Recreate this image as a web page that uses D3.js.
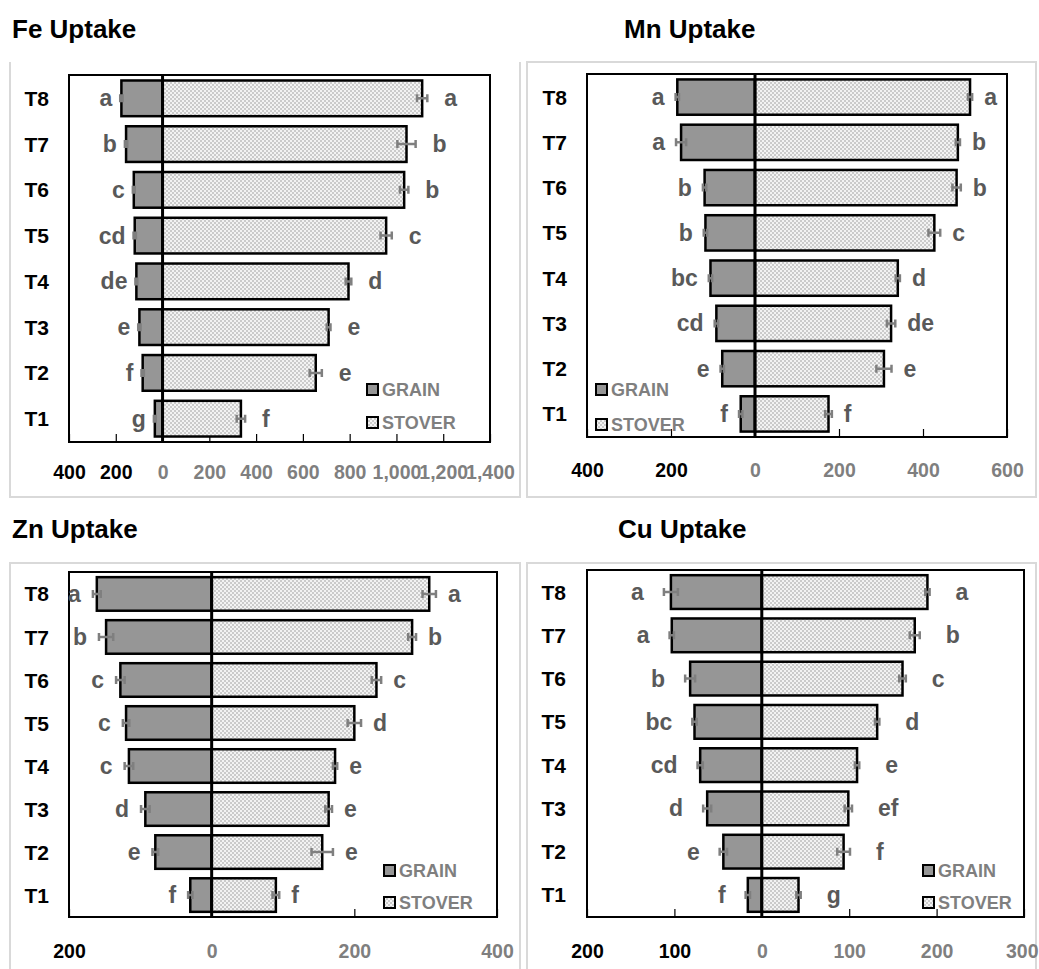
<!DOCTYPE html>
<html>
<head>
<meta charset="utf-8">
<script src="https://cdn.jsdelivr.net/npm/d3@7"></script>
<style>
  html, body { margin: 0; padding: 0; background: #fff; }
  svg { display: block; font-family: "Liberation Sans", Arial, sans-serif; }
</style>
</head>
<body>
<svg id="chart" width="1039" height="969"></svg>
<script>
// Treatments, listed T1..T8 (T8 is drawn at the top)
const treatments = ["T1", "T2", "T3", "T4", "T5", "T6", "T7", "T8"];

// Fe uptake
const feGrain = [33, 85, 99, 112, 119, 123, 156, 176];
const feGrainErr = [4, 5, 5, 4, 5, 4, 5, 5];
const feStover = [335, 655, 710, 795, 956, 1033, 1043, 1110];
const feStoverErr = [18, 26, 8, 12, 24, 18, 39, 22];
const feGrainLetters = ["g", "f", "e", "de", "cd", "c", "b", "a"];
const feStoverLetters = ["f", "e", "e", "d", "c", "b", "b", "a"];
const feTicks = [-400, -200, 0, 200, 400, 600, 800, 1000, 1200, 1400];

// Mn uptake
const mnGrain = [34, 78, 92, 106, 118, 120, 176, 185];
const mnGrainErr = [4, 4, 4, 4, 4, 4, 12, 4];
const mnStover = [175, 307, 324, 340, 427, 480, 483, 512];
const mnStoverErr = [8, 18, 10, 5, 14, 10, 5, 5];
const mnGrainLetters = ["f", "e", "cd", "bc", "b", "b", "a", "a"];
const mnStoverLetters = ["f", "e", "de", "d", "c", "b", "b", "a"];
const mnTicks = [-400, -200, 0, 200, 400, 600];

// Zn uptake
const znGrain = [30, 79, 93, 116, 120, 128, 148, 161];
const znGrainErr = [3, 4, 6, 6, 4.5, 6, 10, 5.5];
const znStover = [90, 155, 164, 173, 200, 231, 281, 305];
const znStoverErr = [4.7, 15, 4.7, 3, 9.4, 6.6, 5.5, 9.4];
const znGrainLetters = ["f", "e", "d", "c", "c", "c", "b", "a"];
const znStoverLetters = ["f", "e", "e", "e", "d", "c", "b", "a"];
const znTicks = [-200, 0, 200, 400];

// Cu uptake
const cuGrain = [16, 44, 62.5, 70.5, 77, 82, 103, 104];
const cuGrainErr = [2.5, 4.2, 4.6, 3, 2.5, 5.7, 2.5, 8];
const cuStover = [42, 93.6, 99, 109, 132, 161, 175, 189.5];
const cuStoverErr = [2.5, 7.3, 4.2, 2.5, 2.5, 3.8, 5.7, 2.5];
const cuGrainLetters = ["f", "e", "d", "cd", "bc", "b", "a", "a"];
const cuStoverLetters = ["g", "f", "ef", "e", "d", "c", "b", "a"];
const cuTicks = [-200, -100, 0, 100, 200, 300];

const seriesNames = ["GRAIN", "STOVER"];

const W = 1039;

// Panel layout
const panels = [
  { title: "Fe Uptake", titleX: 12, titleY: 38,
    box: { x: 10, y: 62, w: 510, h: 435, top: false },
    plot: { x0: 69, x1: 490, y0: 75, y1: 442 }, labelX: 49, tickPad: 23.5,
    domain: [-400, 1400], ticks: feTicks, legend: { x: 367, y: [384, 417] },
    gapG: 8, gapS: 17,
    grain: feGrain, grainErr: feGrainErr, stover: feStover, stoverErr: feStoverErr,
    gl: feGrainLetters, sl: feStoverLetters },
  { title: "Mn Uptake", titleX: 624, titleY: 38,
    box: { x: 527, y: 62, w: 509, h: 435, top: true },
    plot: { x0: 587, x1: 1007, y0: 74, y1: 437 }, labelX: 567, tickPad: 26.5,
    domain: [-400, 600], ticks: mnTicks, legend: { x: 596, y: [384, 419] },
    gapG: 11, gapS: 12,
    grain: mnGrain, grainErr: mnGrainErr, stover: mnStover, stoverErr: mnStoverErr,
    gl: mnGrainLetters, sl: mnStoverLetters },
  { title: "Zn Uptake", titleX: 12, titleY: 538,
    box: { x: 10, y: 563, w: 510, h: 420, top: true },
    plot: { x0: 69, x1: 497, y0: 572, y1: 917 }, labelX: 49, tickPad: 27.5,
    domain: [-200, 400], ticks: znTicks, legend: { x: 384, y: [865, 897] },
    gapG: 12, gapS: 12,
    grain: znGrain, grainErr: znGrainErr, stover: znStover, stoverErr: znStoverErr,
    gl: znGrainLetters, sl: znStoverLetters },
  { title: "Cu Uptake", titleX: 618, titleY: 538,
    box: { x: 527, y: 563, w: 509, h: 420, top: true },
    plot: { x0: 587, x1: 1024, y0: 570, y1: 917 }, labelX: 566, tickPad: 27.5,
    domain: [-200, 300], ticks: cuTicks, legend: { x: 923, y: [865, 897] },
    gapG: 20, gapS: 26,
    grain: cuGrain, grainErr: cuGrainErr, stover: cuStover, stoverErr: cuStoverErr,
    gl: cuGrainLetters, sl: cuStoverLetters }
];

const svg = d3.select("#chart");

// Fine checkered fill for the stover bars
const defs = svg.append("defs");
const pat = defs.append("pattern").attr("id", "stoverFill")
  .attr("width", 4).attr("height", 4).attr("patternUnits", "userSpaceOnUse");
pat.append("rect").attr("width", 4).attr("height", 4).attr("fill", "#f3f3f3");
pat.append("rect").attr("x", 0).attr("y", 0).attr("width", 2).attr("height", 2).attr("fill", "#cbcbcb");
pat.append("rect").attr("x", 2).attr("y", 2).attr("width", 2).attr("height", 2).attr("fill", "#cbcbcb");

const grainColor = "#969696";
const letterColor = "#595959";
const softText = "#7f7f7f";
const errColor = "#7f7f7f";
const fmt = d3.format(",");

panels.forEach(p => {
  const g = svg.append("g");

  // panel frame
  const b = p.box;
  const framePath = p.box.top
    ? `M${b.x},${b.y + b.h}V${b.y}H${b.x + b.w}V${b.y + b.h}Z`
    : `M${b.x},${b.y}V${b.y + b.h}H${b.x + b.w}V${b.y}`;
  g.append("path").attr("d", framePath).attr("fill", "none")
    .attr("stroke", "#d9d9d9").attr("stroke-width", 2);

  // title
  g.append("text").attr("x", p.titleX).attr("y", p.titleY)
    .attr("font-size", 26).attr("font-weight", "bold").attr("fill", "#000")
    .text(p.title);

  const x = d3.scaleLinear().domain(p.domain).range([p.plot.x0, p.plot.x1]);
  const y = d3.scaleBand().domain(treatments.slice().reverse())
    .range([p.plot.y0, p.plot.y1]).paddingInner(0.22).paddingOuter(0.12);

  const rows = treatments.map((t, i) => ({
    t, grain: p.grain[i], ge: p.grainErr[i], stover: p.stover[i], se: p.stoverErr[i],
    gl: p.gl[i], sl: p.sl[i]
  }));

  // plot area
  g.append("rect").attr("x", p.plot.x0).attr("y", p.plot.y0)
    .attr("width", p.plot.x1 - p.plot.x0).attr("height", p.plot.y1 - p.plot.y0)
    .attr("fill", "#fff").attr("stroke", "#000").attr("stroke-width", 2);

  // inward tick marks along the bottom edge
  const tickAxis = d3.axisTop(x).tickValues(p.ticks.filter(v => v !== 0))
    .tickSize(8).tickFormat("");
  const ta = g.append("g").attr("transform", `translate(0,${p.plot.y1})`).call(tickAxis);
  ta.select(".domain").remove();
  ta.selectAll("line").attr("stroke", "#000").attr("stroke-width", 1.2);

  // grain bars (drawn to the left of zero)
  g.selectAll(".grain").data(rows).join("rect")
    .attr("x", d => x(-d.grain)).attr("y", d => y(d.t))
    .attr("width", d => x(0) - x(-d.grain)).attr("height", y.bandwidth())
    .attr("fill", grainColor).attr("stroke", "#000").attr("stroke-width", 2.5);

  // stover bars
  g.selectAll(".stover").data(rows).join("rect")
    .attr("x", x(0)).attr("y", d => y(d.t))
    .attr("width", d => x(d.stover) - x(0)).attr("height", y.bandwidth())
    .attr("fill", "url(#stoverFill)").attr("stroke", "#000").attr("stroke-width", 2.5);

  // zero line
  g.append("line").attr("x1", x(0)).attr("x2", x(0))
    .attr("y1", p.plot.y0).attr("y2", p.plot.y1)
    .attr("stroke", "#000").attr("stroke-width", 3);

  // error bars
  const errBar = (lo, hi, cy) => `M${lo},${cy}H${hi}M${lo},${cy - 4}V${cy + 4}M${hi},${cy - 4}V${cy + 4}`;
  g.selectAll(".gerr").data(rows).join("path")
    .attr("d", d => errBar(x(-(d.grain + d.ge)), x(-(d.grain - d.ge)), y(d.t) + y.bandwidth() / 2))
    .attr("fill", "none").attr("stroke", errColor).attr("stroke-width", 2.5);
  g.selectAll(".serr").data(rows).join("path")
    .attr("d", d => errBar(x(d.stover - d.se), x(d.stover + d.se), y(d.t) + y.bandwidth() / 2))
    .attr("fill", "none").attr("stroke", errColor).attr("stroke-width", 2.5);

  // significance letters
  g.selectAll(".gl").data(rows).join("text")
    .attr("x", d => x(-(d.grain + d.ge)) - p.gapG)
    .attr("y", d => y(d.t) + y.bandwidth() / 2)
    .attr("dy", "0.35em").attr("text-anchor", "end")
    .attr("font-size", 23).attr("font-weight", "bold").attr("fill", letterColor)
    .text(d => d.gl);
  g.selectAll(".sl").data(rows).join("text")
    .attr("x", d => x(d.stover + d.se) + p.gapS)
    .attr("y", d => y(d.t) + y.bandwidth() / 2)
    .attr("dy", "0.35em").attr("text-anchor", "start")
    .attr("font-size", 23).attr("font-weight", "bold").attr("fill", letterColor)
    .text(d => d.sl);

  // treatment labels
  g.selectAll(".tl").data(rows).join("text")
    .attr("x", p.labelX).attr("y", d => y(d.t) + y.bandwidth() / 2)
    .attr("dy", "0.36em").attr("text-anchor", "end")
    .attr("font-size", 21).attr("font-weight", "bold").attr("fill", "#000")
    .text(d => d.t);

  // value axis labels below the plot (grain side in black, stover side in grey)
  const labelAxis = d3.axisBottom(x).tickValues(p.ticks).tickSize(0)
    .tickPadding(p.tickPad).tickFormat(v => fmt(Math.abs(v)));
  const la = g.append("g").attr("transform", `translate(0,${p.plot.y1})`).call(labelAxis);
  la.select(".domain").remove();
  la.selectAll("text")
    .attr("font-size", 19.5).attr("font-weight", "bold")
    .attr("font-family", "'Liberation Sans', Arial, sans-serif")
    .attr("fill", v => v < 0 ? "#000" : softText);
  // keep the outermost label inside the page
  la.selectAll(".tick").each(function (v) {
    const t = d3.select(this).select("text");
    const w = t.node().getComputedTextLength();
    const right = x(v) + w / 2;
    if (right > W - 1) t.attr("x", (W - 1) - right);
  });

  // legend
  const lg = g.append("g");
  seriesNames.forEach((name, i) => {
    const ly = p.legend.y[i];
    lg.append("rect").attr("x", p.legend.x).attr("y", ly)
      .attr("width", 11).attr("height", 11)
      .attr("fill", i === 0 ? grainColor : "url(#stoverFill)")
      .attr("stroke", "#000").attr("stroke-width", 2);
    lg.append("text").attr("x", p.legend.x + 15).attr("y", ly + 12)
      .attr("font-size", 18).attr("font-weight", "bold").attr("fill", softText)
      .text(name);
  });
});
</script>
</body>
</html>
